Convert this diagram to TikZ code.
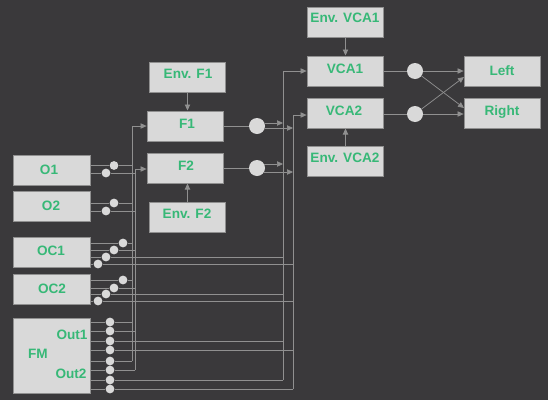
\documentclass[tikz,border=0pt]{standalone}
\usepackage{fontspec}
\setmainfont{Liberation Sans}
\usepackage{xcolor}
\definecolor{panel}{HTML}{3A393B}
\definecolor{boxfill}{HTML}{D9D9D9}
\definecolor{wire}{HTML}{909090}
\definecolor{lettering}{HTML}{37B877}
\usetikzlibrary{arrows.meta, positioning, calc}
\tikzset{
  modbox/.style={draw=wire, line width=0.75pt, fill=boxfill, minimum width=57.6pt, minimum height=22.5pt, inner sep=0pt},
  modtext/.style={font=\bfseries\fontsize{10.2}{12}\selectfont, text=lettering, inner sep=0pt},
  bigdot/.style={circle, fill=boxfill, minimum size=12pt, inner sep=0pt},
  smalldot/.style={circle, fill=boxfill, minimum size=6.6pt, inner sep=0pt},
  wired/.style={draw=wire, line width=0.55pt}
}
\begin{document}
\begin{tikzpicture}[x=0.75pt, y=-0.75pt, >={Triangle[length=4.5pt, width=4pt]}]

  % Background
  \fill[panel] (0,0) rectangle (548,400);
  \useasboundingbox (0,0) rectangle (548,400);

  % Bus coordinates
  \coordinate (busa) at (132,126);
  \coordinate (busb) at (135,169);
  \coordinate (busc) at (283,71);
  \coordinate (busd) at (293,115);

  % Modules
  \node[modbox] (o1)  at (52,170) {};
  \node[modbox] (o2)  at (52,206) {};
  \node[modbox] (oc1) at (52,252) {};
  \node[modbox] (oc2) at (52,289) {};
  \node[modbox, minimum height=56.25pt] (fm) at (52,355.5) {};
  \node[modbox] (f1) at (185.5,126) {};
  \node[modbox] (f2) at (185.5,168) {};
  \node[modbox] (envf1) at (187.5,77.5) {};
  \node[modbox] (envf2) at (187.5,217) {};
  \node[modbox] (vca1) at (345.5,71) {};
  \node[modbox] (vca2) at (345.5,113) {};
  \node[modbox] (envvca1) at (345.5,22.5) {};
  \node[modbox] (envvca2) at (345.5,161) {};
  \node[modbox] (left)  at (502.5,71) {};
  \node[modbox] (right) at (502.5,113) {};

  % Module texts
  \node[modtext] (o1t)  at (49,170) {O1};
  \node[modtext] (o2t)  at (51,206) {O2};
  \node[modtext] (oc1t) at (51,251) {OC1};
  \node[modtext] (oc2t) at (52,289) {OC2};
  \node[modtext] (fmt)  at (38,354) {FM};
  \node[modtext] (out1t) at (72,335) {Out1};
  \node[modtext] (out2t) at (71,374) {Out2};
  \node[modtext] (f1t) at (187,124) {F1};
  \node[modtext] (f2t) at (186,166) {F2};
  \node[modtext] (envf1t) at (188,74) {Env. F1};
  \node[modtext] (envf2t) at (187,214) {Env. F2};
  \node[modtext] (vca1t) at (345,69) {VCA1};
  \node[modtext] (vca2t) at (344,111) {VCA2};
  \node[modtext] (envvca1t) at (345,18) {Env. VCA1};
  \node[modtext] (envvca2t) at (345,158) {Env. VCA2};
  \node[modtext] (leftt)  at (502,71) {Left};
  \node[modtext] (rightt) at (502,112) {Right};

  % Mixer dots
  \node[bigdot] (mixf1)   at (257,126) {};
  \node[bigdot] (mixf2)   at (257,168) {};
  \node[bigdot] (mixvca1) at (415,71) {};
  \node[bigdot] (mixvca2) at (415,114) {};

  % Output dots
  \node[smalldot] (o1a) at (114,165.5) {};
  \node[smalldot] (o1b) at (106,173) {};
  \node[smalldot] (o2a) at (114,203) {};
  \node[smalldot] (o2b) at (106,211) {};
  \node[smalldot] (oc1a) at (123,243) {};
  \node[smalldot] (oc1b) at (114,250) {};
  \node[smalldot] (oc1c) at (106,257) {};
  \node[smalldot] (oc1d) at (98,264) {};
  \node[smalldot] (oc2a) at (123,280) {};
  \node[smalldot] (oc2b) at (114,288) {};
  \node[smalldot] (oc2c) at (106,294) {};
  \node[smalldot] (oc2d) at (98,301) {};
  \node[smalldot] (fma) at (110,322) {};
  \node[smalldot] (fmb) at (110,331) {};
  \node[smalldot] (fmc) at (110,341) {};
  \node[smalldot] (fmd) at (110,350) {};
  \node[smalldot] (fme) at (110,361) {};
  \node[smalldot] (fmf) at (110,370) {};
  \node[smalldot] (fmg) at (110,380) {};
  \node[smalldot] (fmh) at (110,389) {};

  % Oscillator wires
  \draw[wired] (o1.east |- o1a) -- (o1a) -- (o1a -| busa);
  \draw[wired] (o1.east |- o1b) -- (o1b) -- (o1b -| busb);
  \draw[wired] (o2.east |- o2a) -- (o2a) -- (o2a -| busa);
  \draw[wired] (o2.east |- o2b) -- (o2b) -- (o2b -| busb);
  \draw[wired] (oc1.east |- oc1a) -- (oc1a) -- (oc1a -| busa);
  \draw[wired] (oc1.east |- oc1b) -- (oc1b) -- (oc1b -| busb);
  \draw[wired] (oc1.east |- oc1c) -- (oc1c) -- (oc1c -| busc);
  \draw[wired] (oc1.east |- oc1d) -- (oc1d) -- (oc1d -| busd);
  \draw[wired] (oc2.east |- oc2a) -- (oc2a) -- (oc2a -| busa);
  \draw[wired] (oc2.east |- oc2b) -- (oc2b) -- (oc2b -| busb);
  \draw[wired] (oc2.east |- oc2c) -- (oc2c) -- (oc2c -| busc);
  \draw[wired] (oc2.east |- oc2d) -- (oc2d) -- (oc2d -| busd);

  % FM wires
  \draw[wired] (fm.east |- fma) -- (fma) -- (fma -| busa);
  \draw[wired] (fm.east |- fmb) -- (fmb) -- (fmb -| busb);
  \draw[wired] (fm.east |- fmc) -- (fmc) -- (fmc -| busc);
  \draw[wired] (fm.east |- fmd) -- (fmd) -- (fmd -| busd);
  \draw[wired] (fm.east |- fme) -- (fme) -- (fme -| busa);
  \draw[wired] (fm.east |- fmf) -- (fmf) -- (fmf -| busb);
  \draw[wired] (fm.east |- fmg) -- (fmg) -- (fmg -| busc);
  \draw[wired] (fm.east |- fmh) -- (fmh) -- (fmh -| busd);

  % Buses
  \draw[wired, ->] (fme -| busa) -- (busa) -- (f1.west);
  \draw[wired, ->] (fmf -| busb) -- (busb) -- (f2.west |- busb);
  \draw[wired, ->] (fmg -| busc) -- (busc) -- (vca1.west);
  \draw[wired, ->] (fmh -| busd) -- (busd) -- (vca2.west |- busd);

  % Envelopes
  \draw[wired, ->] (envf1.south) -- (envf1.south |- f1.north);
  \draw[wired, ->] (envf2.north) -- (envf2.north |- f2.south);
  \draw[wired, ->] (envvca1) -- (vca1);
  \draw[wired, ->] (envvca2) -- (vca2);

  % Filter outputs
  \coordinate (mixf1up) at (264,123);
  \coordinate (mixf1dn) at (264,128);
  \coordinate (mixf2up) at (264,164);
  \coordinate (mixf2dn) at (264,172);
  \draw[wired] (f1) -- (mixf1);
  \draw[wired] (f2) -- (mixf2);
  \draw[wired, ->] (mixf1up) -- (mixf1up -| busc);
  \draw[wired, ->] (mixf1dn) -- (mixf1dn -| busd);
  \draw[wired, ->] (mixf2up) -- (mixf2up -| busc);
  \draw[wired, ->] (mixf2dn) -- (mixf2dn -| busd);

  % Amp outputs
  \coordinate (rightin) at (464,108);
  \coordinate (leftin)  at (464,77);
  \draw[wired] (vca1) -- (mixvca1);
  \draw[wired] (vca2.east |- mixvca2) -- (mixvca2);
  \draw[wired, ->] (mixvca1) -- (left);
  \draw[wired, ->] (mixvca2) -- (right.west |- mixvca2);
  \draw[wired, ->] (mixvca1) -- (rightin);
  \draw[wired, ->] (mixvca2) -- (leftin);

\end{tikzpicture}
\end{document}
